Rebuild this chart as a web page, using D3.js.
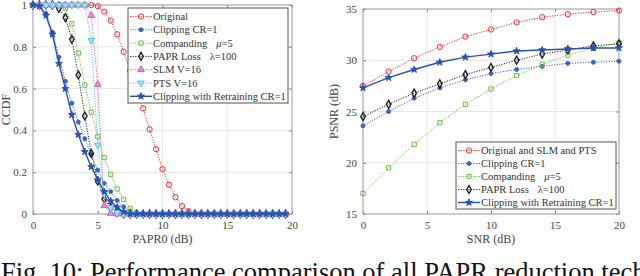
<!DOCTYPE html>
<html>
<head>
<meta charset="utf-8">
<script src="https://cdn.jsdelivr.net/npm/d3@7"></script>
<style>
  body { margin: 0; background: #fff; }
  svg { display: block; font-family: "Liberation Serif", "DejaVu Serif", serif; }
</style>
</head>
<body>
<svg id="chart" width="640" height="276"></svg>
<script>
// ---- data: left panel (CCDF vs PAPR0), x step 0.5 dB
const paprX = [0,0.5,1,1.5,2,2.5,3,3.5,4,4.5,5,5.5,6,6.5,7,7.5,8,8.5,9,9.5,
               10,10.5,11,11.5,12,12.5,13,13.5,14,14.5,15,15.5,16,16.5,17,17.5,18,18.5,19,19.5];
const ccdfOriginal = [1,1,1,1,1,1,1,1,1,1,0.995,0.968,0.925,0.86,0.776,0.685,0.595,0.505,0.405,0.31,
                      0.215,0.14,0.08,0.038,0.014,0.003,0,0,0,0,0,0,0,0,0,0,0,0,0,0];
const ccdfClipping = [1,1,0.96,0.87,0.75,0.635,0.53,0.44,0.36,0.285,0.21,0.147,0.107,0.065,0.035,0.012,0,0,0,0,
                      0,0,0,0,0,0,0,0,0,0,0,0,0,0,0,0,0,0,0,0];
const ccdfCompanding = [1,1,1,1,1,0.985,0.91,0.77,0.617,0.487,0.37,0.27,0.19,0.12,0.07,0.027,0.006,0,0,0,
                        0,0,0,0,0,0,0,0,0,0,0,0,0,0,0,0,0,0,0,0];
const ccdfPaprLoss = [1,1,1,1,0.984,0.94,0.836,0.665,0.469,0.29,0.158,0.072,0.03,0.008,0,0,0,0,0,0,
                      0,0,0,0,0,0,0,0,0,0,0,0,0,0,0,0,0,0,0,0];
const ccdfSLM = [1,1,1,1,1,1,1,1,1,0.95,0.62,0.04,0.003,0,0,0,0,0,0,0,
                 0,0,0,0,0,0,0,0,0,0,0,0,0,0,0,0,0,0,0,0];
const ccdfPTS = [1,1,1,1,1,1,1,1,1,0.83,0.33,0.1,0.03,0.008,0,0,0,0,0,0,
                 0,0,0,0,0,0,0,0,0,0,0,0,0,0,0,0,0,0,0,0];
const ccdfRetrain = [1,0.995,0.95,0.86,0.72,0.6,0.475,0.38,0.298,0.226,0.163,0.107,0.062,0.032,0.01,0,0,0,0,0,
                     0,0,0,0,0,0,0,0,0,0,0,0,0,0,0,0,0,0,0,0];

// ---- data: right panel (PSNR vs SNR)
const snrX = [0,2,4,6,8,10,12,14,16,18,20];
const psnrOriginal = [27.5,28.9,30.2,31.3,32.3,33.0,33.7,34.2,34.5,34.7,34.85];
const psnrClipping = [23.6,25.0,26.3,27.3,28.1,28.7,29.1,29.4,29.7,29.8,29.9];
const psnrCompanding = [17.0,19.5,21.8,23.9,25.7,27.2,28.5,29.6,30.5,31.2,31.7];
const psnrPaprLoss = [24.5,25.7,26.8,27.7,28.6,29.3,30.0,30.6,31.0,31.4,31.6];
const psnrRetrain = [27.3,28.3,29.1,29.8,30.3,30.6,30.9,31.0,31.1,31.2,31.2];

const leftTicksX = [0,5,10,15,20];
const leftTicksY = [0,0.2,0.4,0.6,0.8,1];
const rightTicksX = [0,5,10,15,20];
const rightTicksY = [15,20,25,30,35];

// series styles
const S = {
  orig:   {color:"#f03030", sym:d3.symbolCircle,   size:22, fill:"none",    dash:"1.2,1.4", w:1},
  clip:   {color:"#3a62c0", sym:d3.symbolCircle,   size:12, fill:"#3a62c0", dash:"1.2,1.4", w:1},
  comp:   {color:"#6cc04a", sym:d3.symbolSquare,   size:18, fill:"none",    dash:"1.2,1.4", w:1},
  loss:   {color:"#222222", sym:d3.symbolDiamond,  size:18, fill:"none",    dash:"1.2,1.4", w:1, sw:1.4},
  slm:    {color:"#d060c0", sym:d3.symbolTriangle, size:20, fill:"#e090d8", dash:"1.2,1.4", w:1},
  pts:    {color:"#60c8e0", sym:d3.symbolTriangle, size:20, fill:"#a0e0f0", dash:"1.2,1.4", w:1, rot:180},
  retr:   {color:"#2a50b0", sym:d3.symbolStar,     size:15, fill:"#2a50b0", dash:null,      w:1.4}
};

const svg = d3.select("#chart");

function drawPanel(p) {
  const g = svg.append("g");
  const x = d3.scaleLinear().domain(p.xd).range([p.x0, p.x1]);
  const y = d3.scaleLinear().domain(p.yd).range([p.y0, p.y1]);

  // grid
  g.selectAll(".gx").data(p.tx.slice(1, -1)).enter().append("line")
    .attr("x1", d => x(d)).attr("x2", d => x(d)).attr("y1", p.y0).attr("y2", p.y1)
    .attr("stroke", "#e6e6e6").attr("stroke-width", 1);
  g.selectAll(".gy").data(p.ty.slice(1, -1)).enter().append("line")
    .attr("y1", d => y(d)).attr("y2", d => y(d)).attr("x1", p.x0).attr("x2", p.x1)
    .attr("stroke", "#e6e6e6").attr("stroke-width", 1);

  // axes with inward ticks
  const ax = [
    g.append("g").attr("transform", `translate(0,${p.y0})`).call(d3.axisBottom(x).tickValues(p.tx).tickSize(-3).tickPadding(7).tickFormat(d3.format("~g"))),
    g.append("g").attr("transform", `translate(0,${p.y1})`).call(d3.axisTop(x).tickValues(p.tx).tickSize(-3).tickFormat("")),
    g.append("g").attr("transform", `translate(${p.x0},0)`).call(d3.axisLeft(y).tickValues(p.ty).tickSize(-3).tickPadding(6).tickFormat(d3.format("~g"))),
    g.append("g").attr("transform", `translate(${p.x1},0)`).call(d3.axisRight(y).tickValues(p.ty).tickSize(-3).tickFormat(""))
  ];
  ax.forEach(a => {
    a.select(".domain").remove();
    a.selectAll("line").attr("stroke", "#8a8a8a");
    a.selectAll("text").attr("fill", "#444").attr("font-size", 11)
      .attr("font-family", "Liberation Serif, serif");
  });

  g.append("rect").attr("x", p.x0).attr("y", p.y1).attr("width", p.x1 - p.x0).attr("height", p.y0 - p.y1)
    .attr("fill", "none").attr("stroke", "#9a9a9a").attr("stroke-width", 1);

  // series
  p.series.forEach(s => {
    const st = S[s.key];
    const pts = p.xs.map((v, i) => [x(v), y(s.vals[i])]);
    g.append("path").attr("d", d3.line()(pts)).attr("fill", "none")
      .attr("stroke", st.color).attr("stroke-width", st.w)
      .attr("stroke-dasharray", st.dash);
    g.selectAll(null).data(pts).enter().append("path")
      .attr("d", d3.symbol().type(st.sym).size(st.size))
      .attr("transform", d => `translate(${d[0]},${d[1]})` + (st.rot ? ` rotate(${st.rot})` : ""))
      .attr("fill", st.fill).attr("stroke", st.color).attr("stroke-width", st.sw || 1);
  });

  // axis titles
  g.append("text").attr("x", (p.x0 + p.x1) / 2).attr("y", p.y0 + 29)
    .attr("text-anchor", "middle").attr("fill", "#444").attr("font-size", 12).text(p.xlabel);
  g.append("text").attr("transform", `translate(${p.ylx},${(p.y0 + p.y1) / 2}) rotate(-90)`)
    .attr("text-anchor", "middle").attr("fill", "#444").attr("font-size", 12).text(p.ylabel);

  // legend
  const L = p.legend;
  const lg = g.append("g");
  lg.append("rect").attr("x", L.x).attr("y", L.y).attr("width", L.w).attr("height", L.h)
    .attr("fill", "#fff").attr("stroke", "#555").attr("stroke-width", 1);
  p.series.forEach((s, i) => {
    const st = S[s.key];
    const yy = L.y + L.first + i * L.step;
    lg.append("line").attr("x1", L.x + 2).attr("x2", L.x + 24).attr("y1", yy).attr("y2", yy)
      .attr("stroke", st.color).attr("stroke-width", st.w).attr("stroke-dasharray", st.dash);
    lg.append("path").attr("d", d3.symbol().type(st.sym).size(st.size))
      .attr("transform", `translate(${L.x + 13},${yy})` + (st.rot ? ` rotate(${st.rot})` : ""))
      .attr("fill", st.fill).attr("stroke", st.color).attr("stroke-width", st.sw || 1);
    const t = lg.append("text").attr("x", L.x + 25).attr("y", yy + 3.6)
      .attr("font-size", 10.5).attr("fill", "#333");
    s.label.forEach(part => {
      t.append("tspan").attr("dx", part.dx || 0).attr("font-style", part.it ? "italic" : null).text(part.t);
    });
  });
}

drawPanel({
  xd: [0, 20], yd: [0, 1], x0: 33, x1: 292, y0: 214, y1: 5,
  tx: leftTicksX, ty: leftTicksY, xs: paprX,
  xlabel: "PAPR0 (dB)", ylabel: "CCDF", ylx: 10,
  legend: {x: 128, y: 8, w: 160, h: 95, first: 8.5, step: 13.3},
  series: [
    {key: "orig", vals: ccdfOriginal,   label: [{t: "Original"}]},
    {key: "clip", vals: ccdfClipping,   label: [{t: "Clipping CR=1"}]},
    {key: "comp", vals: ccdfCompanding, label: [{t: "Companding"}, {t: "μ", it: true, dx: 9}, {t: "=5"}]},
    {key: "loss", vals: ccdfPaprLoss,   label: [{t: "PAPR Loss"}, {t: "λ=100", dx: 9}]},
    {key: "slm",  vals: ccdfSLM,        label: [{t: "SLM V=16"}]},
    {key: "pts",  vals: ccdfPTS,        label: [{t: "PTS V=16"}]},
    {key: "retr", vals: ccdfRetrain,    label: [{t: "Clipping with Retraining CR=1"}]}
  ]
});

drawPanel({
  xd: [0, 20], yd: [15, 35], x0: 363, x1: 619, y0: 214, y1: 9,
  tx: rightTicksX, ty: rightTicksY, xs: snrX,
  xlabel: "SNR (dB)", ylabel: "PSNR (dB)", ylx: 338,
  legend: {x: 456, y: 142, w: 160, h: 67, first: 8.5, step: 13},
  series: [
    {key: "orig", vals: psnrOriginal,   label: [{t: "Original and SLM and PTS"}]},
    {key: "clip", vals: psnrClipping,   label: [{t: "Clipping CR=1"}]},
    {key: "comp", vals: psnrCompanding, label: [{t: "Companding"}, {t: "μ", it: true, dx: 9}, {t: "=5"}]},
    {key: "loss", vals: psnrPaprLoss,   label: [{t: "PAPR Loss"}, {t: "λ=100", dx: 9}]},
    {key: "retr", vals: psnrRetrain,    label: [{t: "Clipping with Retraining CR=1"}]}
  ]
});

// caption (cut off at the bottom in the source)
svg.append("text").attr("x", 1).attr("y", 281).attr("font-size", 26.5).attr("fill", "#111")
  .text("Fig. 10: Performance comparison of all PAPR reduction techniques");
</script>
</body>
</html>
